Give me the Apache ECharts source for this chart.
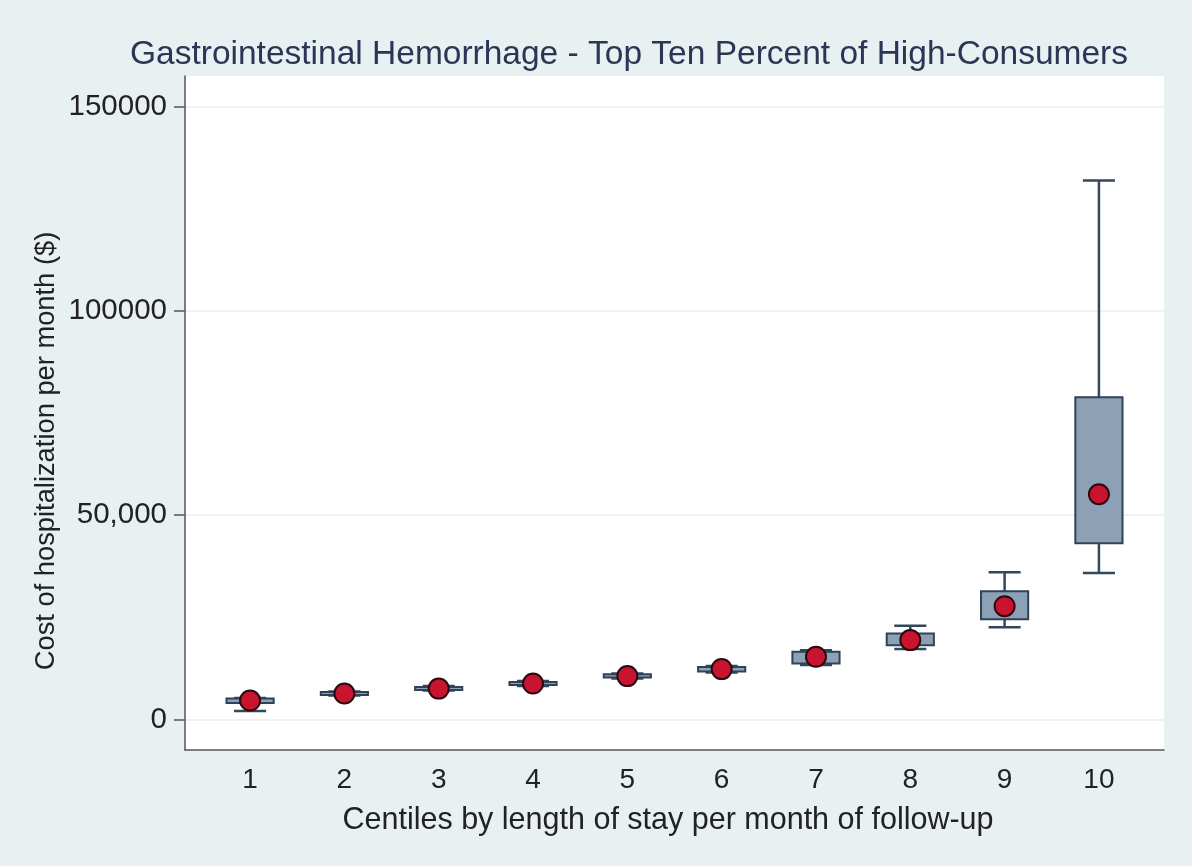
<!DOCTYPE html>
<html>
<head>
<meta charset="utf-8">
<script src="https://cdn.jsdelivr.net/npm/echarts@6/dist/echarts.min.js"></script>
<style>
html,body{margin:0;padding:0;background:#e8f0f1;}
#chart{width:1192px;height:866px;}
</style>
</head>
<body>
<div id="chart"></div>
<script>
// ---- data ----
const categories   = [1, 2, 3, 4, 5, 6, 7, 8, 9, 10];
const lowerWhisker = [2030, 5820, 7040, 8190, 9980, 11450, 13280, 17200, 22570, 35830];
const q1           = [3990, 5940, 7170, 8390, 10220, 11690, 13700, 18170, 24530, 43120];
const q3           = [5090, 6680, 7950, 9170, 11030, 12790, 16540, 21040, 31380, 78840];
const upperWhisker = [5210, 6800, 8150, 9370, 11200, 13040, 16950, 22900, 36030, 131900];
const means        = [4600, 6310, 7530, 8760, 10590, 12300, 15310, 19400, 27710, 55110];
const yTickValues  = [0, 50000, 100000, 150000];
const yTickLabels  = ['0', '50,000', '100000', '150000'];

const titleText = 'Gastrointestinal Hemorrhage - Top Ten Percent of High-Consumers';
const xTitle = 'Centiles by length of stay per month of follow-up';
const yTitle = 'Cost of hospitalization per month ($)';

const boxData = categories.map((c, i) => [c, lowerWhisker[i], q1[i], q3[i], upperWhisker[i]]);
const meanData = categories.map((c, i) => [c, means[i]]);

const BOX_HALF = 0.25;   // in x units
const CAP_HALF = 0.17;
const lineColor = '#33475d';
const FONT = '"Liberation Sans", Arial, sans-serif';

function renderBox(params, api) {
  const x = api.value(0);
  const lo = api.coord([x, api.value(1)]);
  const b1 = api.coord([x, api.value(2)]);
  const b3 = api.coord([x, api.value(3)]);
  const hi = api.coord([x, api.value(4)]);
  const left = api.coord([x - BOX_HALF, 0])[0];
  const right = api.coord([x + BOX_HALF, 0])[0];
  const cl = api.coord([x - CAP_HALF, 0])[0];
  const cr = api.coord([x + CAP_HALF, 0])[0];
  const cx = lo[0];
  const ls = {stroke: lineColor, lineWidth: 2.5, fill: null};
  return {
    type: 'group',
    children: [
      {type: 'line', shape: {x1: cx, y1: lo[1], x2: cx, y2: b1[1]}, style: ls},
      {type: 'line', shape: {x1: cx, y1: b3[1], x2: cx, y2: hi[1]}, style: ls},
      {type: 'line', shape: {x1: cl, y1: lo[1], x2: cr, y2: lo[1]}, style: ls},
      {type: 'line', shape: {x1: cl, y1: hi[1], x2: cr, y2: hi[1]}, style: ls},
      {type: 'rect', shape: {x: left, y: b3[1], width: right - left, height: Math.max(b1[1] - b3[1], 1)},
       style: {fill: '#8ca0b6', stroke: '#2e4258', lineWidth: 2}}
    ]
  };
}

const chart = echarts.init(document.getElementById('chart'), null, {renderer: 'canvas'});
chart.setOption({
  backgroundColor: '#e8f0f1',
  animation: false,
  grid: {left: 185, right: 28, top: 76, bottom: 116, show: true, backgroundColor: '#ffffff', borderWidth: 0},
  xAxis: {
    type: 'value', min: 0.31, max: 10.69,
    axisLine: {show: true, onZero: false, lineStyle: {color: '#555', width: 1.5}},
    axisTick: {show: false},
    splitLine: {show: false},
    axisLabel: {customValues: categories, fontSize: 28, color: '#222', fontFamily: FONT, margin: 16}
  },
  yAxis: {
    type: 'value', min: -7500, max: 157500,
    axisLine: {show: true, lineStyle: {color: '#555', width: 1.5}},
    axisTick: {show: true, length: 11, customValues: yTickValues, lineStyle: {color: '#555', width: 1.5}},
    splitLine: {show: true, lineStyle: {color: '#ededed', width: 1.5}},
    axisLabel: {
      customValues: yTickValues, fontSize: 29.5, color: '#222', fontFamily: FONT, margin: 18,
      formatter: v => yTickLabels[yTickValues.indexOf(v)]
    }
  },
  graphic: [
    {type: 'text', style: {text: titleText, x: 629, y: 55, textAlign: 'center', textVerticalAlign: 'middle',
      font: '33.5px ' + FONT, fill: '#2a3655'}},
    {type: 'text', style: {text: xTitle, x: 668, y: 821, textAlign: 'center', textVerticalAlign: 'middle',
      font: '30.5px ' + FONT, fill: '#222'}},
    {type: 'text', rotation: Math.PI / 2, x: 46, y: 451, style: {text: yTitle, x: 0, y: 0, textAlign: 'center', textVerticalAlign: 'middle',
      font: '27.3px ' + FONT, fill: '#222'}}
  ],
  series: [
    {type: 'custom', renderItem: renderBox, data: boxData, encode: {x: 0, y: [1, 2, 3, 4]}, z: 2},
    {type: 'scatter', data: meanData, symbol: 'circle', symbolSize: 20, z: 3,
     itemStyle: {color: '#c8142e', borderColor: '#2a0a10', borderWidth: 2, opacity: 1}}
  ]
});
</script>
</body>
</html>
